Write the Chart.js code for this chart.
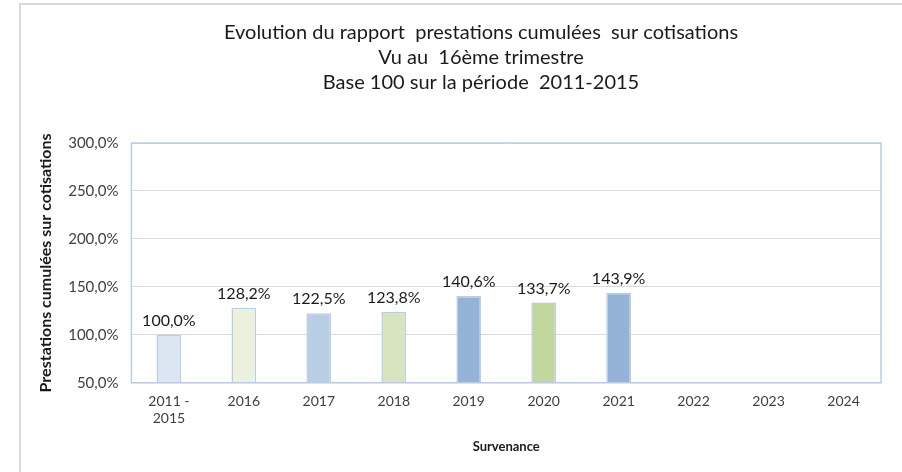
<!DOCTYPE html>
<html>
<head>
<meta charset="utf-8">
<script src="https://cdn.jsdelivr.net/npm/chart.js@4"></script>
<style>
  body { margin: 0; overflow: hidden; background: #fff; }
  #frame { position: absolute; left: 19px; top: 3px; width: 900px; height: 480px; border: 2px solid #d9d9d9; }
  #wrap { position: absolute; left: 0; top: 0; width: 902px; height: 472px; }
</style>
</head>
<body>
<div id="frame"></div>
<div id="wrap"><canvas id="myChart"></canvas></div>
<script>
const categories = [['2011 -', '2015'], '2016', '2017', '2018', '2019', '2020', '2021', '2022', '2023', '2024'];
const ratios = [100.0, 128.2, 122.5, 123.8, 140.6, 133.7, 143.9, 0, 0, 0];
const barColors = ['#DCE6F2', '#EBF1DE', '#B9CDE5', '#D7E4BD', '#95B3D7', '#C3D69B', '#95B3D7', '#95B3D7', '#95B3D7', '#95B3D7'];
const yTicks = [50, 100, 150, 200, 250, 300];
const titleLines = ['Evolution du rapport  prestations cumulées  sur cotisations', 'Vu au  16ème trimestre', 'Base 100 sur la période  2011-2015'];

const fmt = v => v.toFixed(1).replace('.', ',') + '%';
const FONT = 'Lato, "Open Sans", sans-serif';

// title centred on the outer frame, not on the canvas
const frameTitle = {
  id: 'frameTitle',
  afterDraw(chart) {
    const ctx = chart.ctx;
    ctx.save();
    ctx.font = '20px ' + FONT;
    ctx.fillStyle = '#1a1a1a';
    ctx.textAlign = 'center';
    ctx.textBaseline = 'middle';
    titleLines.forEach((t, i) => ctx.fillText(t, 481, 33 + i * 25));
    ctx.restore();
  }
};

// value labels above the bars
const valueLabels = {
  id: 'valueLabels',
  afterDatasetsDraw(chart) {
    const ctx = chart.ctx;
    const meta = chart.getDatasetMeta(0);
    ctx.save();
    ctx.font = '16px ' + FONT;
    ctx.fillStyle = '#1a1a1a';
    ctx.textAlign = 'center';
    ctx.textBaseline = 'alphabetic';
    meta.data.forEach((bar, i) => {
      if (!ratios[i]) return;
      ctx.fillText(fmt(ratios[i]), bar.x, bar.y - 9);
    });
    ctx.restore();
  }
};

// light blue frame round the plot area
const plotFrame = {
  id: 'plotFrame',
  afterDraw(chart) {
    const a = chart.chartArea;
    const ctx = chart.ctx;
    ctx.save();
    ctx.strokeStyle = '#B9CDE5';
    ctx.lineWidth = 1.5;
    ctx.strokeRect(a.left, a.top, a.right - a.left, a.bottom - a.top);
    ctx.restore();
  }
};

const ctx = document.getElementById('myChart').getContext('2d');
const chart = new Chart(ctx, {
  type: 'bar',
  data: {
    labels: categories,
    datasets: [{
      data: ratios,
      backgroundColor: barColors,
      borderColor: '#B9CDE5',
      borderWidth: 1.5,
      barPercentage: 0.66,
      categoryPercentage: 0.5,
    }]
  },
  options: {
    responsive: true,
    maintainAspectRatio: false,
    animation: false,
    layout: { padding: { left: 32, right: 21, top: 143, bottom: 13 } },
    plugins: {
      legend: { display: false },
      tooltip: { enabled: false },
      title: { display: false }
    },
    scales: {
      x: {
        grid: { display: false },
        border: { color: '#B9CDE5' },
        ticks: { color: '#404040', font: { family: FONT, size: 14 }, padding: 2, maxRotation: 0 },
        title: { display: true, text: 'Survenance', color: '#1a1a1a', font: { family: FONT, size: 13, weight: 'bold' }, padding: { top: 11 } }
      },
      y: {
        min: 50,
        max: 300,
        afterBuildTicks(axis) { axis.ticks = yTicks.map(v => ({ value: v })); },
        grid: { color: '#d9d9d9', drawTicks: false },
        border: { color: '#B9CDE5' },
        ticks: { color: '#404040', font: { family: FONT, size: 15 }, padding: 13, callback: v => fmt(v) },
        title: { display: true, text: 'Prestations cumulées sur cotisations', color: '#1a1a1a', font: { family: FONT, size: 16, weight: 'bold' }, padding: { bottom: 0 } }
      }
    }
  },
  plugins: [frameTitle, valueLabels, plotFrame]
});
</script>
</body>
</html>
